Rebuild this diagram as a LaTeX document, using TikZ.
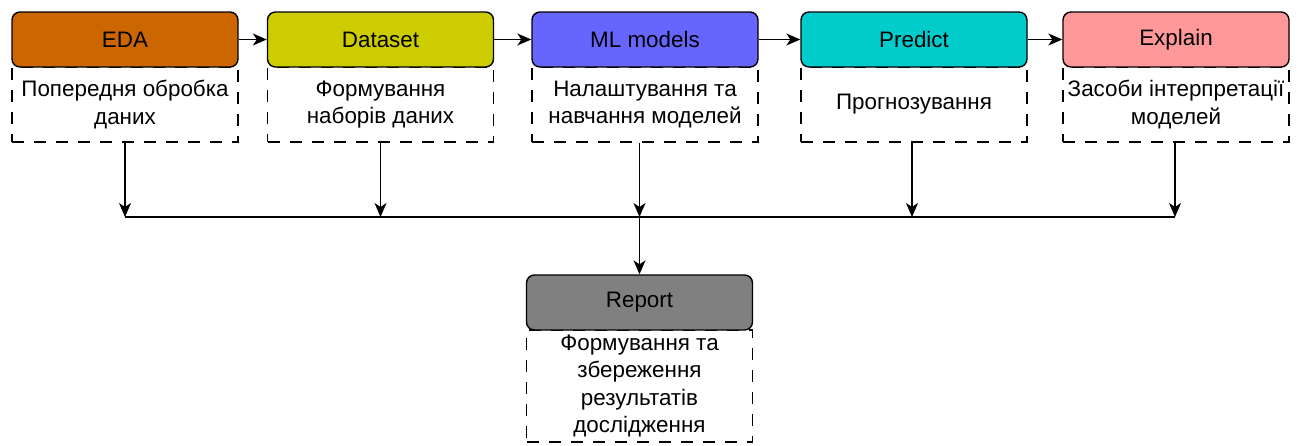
\documentclass[tikz,border=0pt]{standalone}
\usepackage{fontspec}
\setmainfont{Liberation Sans}
\usetikzlibrary{arrows.meta}
\definecolor{cEDA}{HTML}{CC6600}
\definecolor{cDS}{HTML}{CCCC00}
\definecolor{cML}{HTML}{6666FF}
\definecolor{cPR}{HTML}{00CCCC}
\definecolor{cEX}{HTML}{FF9999}
\definecolor{cRE}{HTML}{808080}
\begin{document}
\begin{tikzpicture}[x=1pt,y=-1pt,
  stagebox/.style={draw=black, line width=1.4pt, rounded corners=8pt, minimum width=226pt, minimum height=55pt, inner sep=0pt, font=\fontsize{22.4}{26}\selectfont},
  descbox/.style={draw=black, dash pattern=on 12pt off 10pt, line width=1.3pt, minimum width=226pt, inner sep=0pt, align=center, font=\fontsize{22.4}{27.5}\selectfont},
  arr/.style={-{Stealth[length=14pt,width=12pt,inset=4pt]}, line width=1.4pt},
  ln/.style={line width=1.4pt}]
\useasboundingbox (0,0) rectangle (1306,445);
% description boxes (drawn first)
\node[descbox, minimum height=75pt] (d1) at (125,104.5) {Попередня обробка\\даних};
\node[descbox, minimum height=75pt] (d2) at (380.5,104.5) {Формування\\наборів даних};
\node[descbox, minimum height=75pt] (d3) at (645,104.5) {Налаштування та\\навчання моделей};
\node[descbox, minimum height=75pt] (d4) at (914,104.5) {Прогнозування};
\node[descbox, minimum height=75pt] (d5) at (1176,104.5) {Засоби інтерпретації\\моделей};
\node[descbox, minimum height=112pt] (d6) at (639.5,386) {Формування та\\збереження\\результатів\\дослідження};
% stage boxes
\node[stagebox, fill=cEDA] (eda) at (125,39.5) {EDA};
\node[stagebox, fill=cDS] (ds) at (380.5,39.5) {Dataset};
\node[stagebox, fill=cML] (ml) at (645,39.5) {ML models};
\node[stagebox, fill=cPR] (pr) at (914,39.5) {Predict};
\node[stagebox, fill=cEX] (ex) at (1176,39.5) {Explain};
\node[stagebox, fill=cRE] (re) at (639.5,302.5) {Report};
% joins
\coordinate (j1) at (125,217);
\coordinate (j2) at (380.5,217);
\coordinate (j3) at (639.5,217);
\coordinate (j4) at (912,217);
\coordinate (j5) at (1175,217);
% horizontal flow
\draw[arr] (eda) -- (ds);
\draw[arr] (ds) -- (ml);
\draw[arr] (ml) -- (pr);
\draw[arr] (pr) -- (ex);
% down arrows
\draw[arr] (d1.south) -- (j1);
\draw[arr] (d2.south) -- (j2);
\draw[arr] (d3.south -| j3) -- (j3);
\draw[arr] (d4.south -| j4) -- (j4);
\draw[arr] (d5.south -| j5) -- (j5);
\draw[ln] (j1) -- (j5);
\draw[arr] (j3) -- (re.north);
\end{tikzpicture}
\end{document}
